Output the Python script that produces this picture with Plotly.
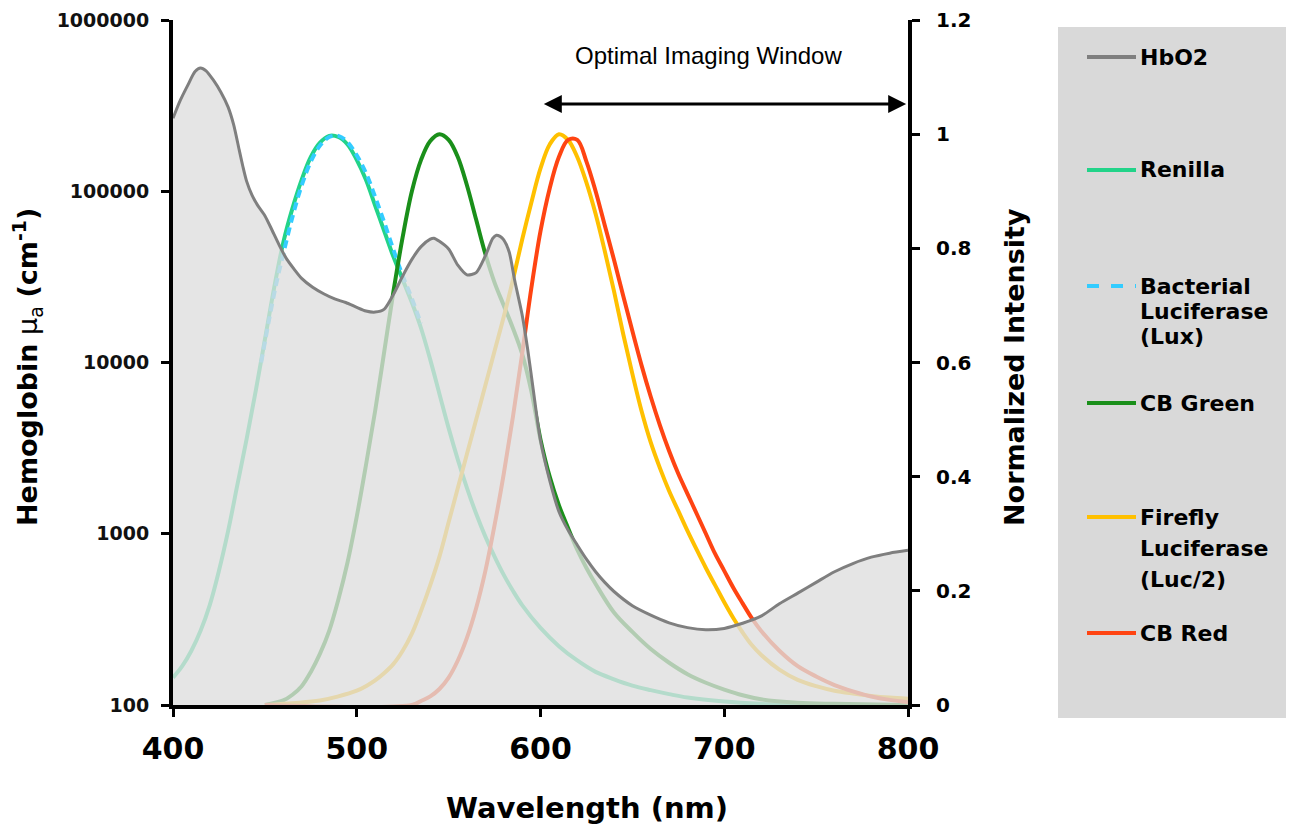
import plotly.graph_objects as go

# ---------------- data ----------------
hbo2_wl = [400, 404, 408, 412, 415, 418, 422, 426, 430, 433, 436, 438, 440, 443, 446, 450,
           454, 458, 462, 466, 470, 476, 482, 488, 494, 500, 505, 510, 515, 520, 525, 530,
           535, 540, 542, 545, 550, 555, 560, 565, 570, 574, 576, 578, 580, 583, 586, 590,
           593, 596, 600, 605, 610, 615, 620, 625, 630, 635, 640, 650, 660, 670, 680, 690,
           700, 710, 720, 730, 740, 750, 760, 770, 780, 790, 800]
hbo2_mua = [267000, 340000, 415000, 500000, 525000, 505000, 445000, 380000, 310000, 245000,
            175000, 140000, 115000, 95000, 83000, 72000, 59000, 48000, 40000, 35000, 31000,
            27500, 25200, 23500, 22400, 21000, 20000, 19700, 20500, 25000, 32000, 40000,
            47500, 52500, 53200, 51000, 46000, 37000, 32500, 33500, 42000, 53000, 55400,
            54500, 52000, 44000, 30000, 19000, 12000, 7000, 3500, 2050, 1350, 1050, 860,
            710, 600, 520, 460, 380, 335, 302, 283, 275, 280, 300, 330, 390, 450, 520, 600,
            670, 730, 770, 800]

renilla_wl = [400, 405, 410, 415, 420, 425, 430, 435, 440, 445, 450, 455, 460, 465, 470, 475,
              480, 485, 490, 495, 500, 505, 510, 515, 520, 525, 530, 535, 540, 545, 550, 555,
              560, 565, 570, 575, 580, 585, 590, 600, 610, 620, 630, 640, 650, 660, 670, 680,
              700, 720, 740, 800]
renilla_int = [0.048, 0.068, 0.095, 0.13, 0.175, 0.235, 0.305, 0.385, 0.465, 0.55, 0.64, 0.73,
               0.81, 0.87, 0.92, 0.96, 0.985, 0.997, 0.995, 0.982, 0.955, 0.92, 0.875, 0.83,
               0.785, 0.745, 0.705, 0.66, 0.605, 0.545, 0.485, 0.43, 0.38, 0.335, 0.295, 0.26,
               0.228, 0.2, 0.175, 0.135, 0.103, 0.078, 0.058, 0.045, 0.034, 0.026, 0.019,
               0.013, 0.006, 0.002, 0.0, 0.0]

lux_wl = [448, 452, 456, 460, 465, 470, 475, 480, 485, 490, 495, 500, 505, 510, 515, 520,
          525, 530, 535]
lux_int = [0.6, 0.67, 0.735, 0.79, 0.855, 0.91, 0.952, 0.98, 0.995, 0.997, 0.986, 0.963,
           0.932, 0.89, 0.845, 0.797, 0.752, 0.712, 0.668]

cbgreen_wl = [450, 460, 465, 470, 475, 480, 485, 490, 495, 500, 505, 510, 515, 520, 525, 530,
              535, 540, 545, 550, 555, 560, 565, 570, 575, 580, 585, 590, 595, 600, 605, 610,
              615, 620, 625, 630, 640, 650, 660, 670, 680, 690, 700, 710, 720, 740, 760, 800]
cbgreen_int = [0.0, 0.008, 0.018, 0.033, 0.058, 0.09, 0.13, 0.185, 0.25, 0.33, 0.42, 0.515,
               0.62, 0.725, 0.82, 0.9, 0.955, 0.988, 1.0, 0.99, 0.96, 0.91, 0.85, 0.79, 0.74,
               0.7, 0.66, 0.615, 0.55, 0.465, 0.4, 0.35, 0.31, 0.272, 0.24, 0.212, 0.162,
               0.128, 0.098, 0.074, 0.054, 0.039, 0.027, 0.017, 0.01, 0.004, 0.002, 0.0]

firefly_wl = [450, 480, 490, 500, 505, 510, 515, 520, 525, 530, 535, 540, 545, 550, 555, 560,
              565, 570, 575, 580, 585, 590, 595, 600, 605, 610, 615, 620, 625, 630, 635, 640,
              645, 650, 655, 660, 665, 670, 675, 680, 685, 690, 695, 700, 705, 710, 715, 720,
              730, 740, 750, 760, 770, 780, 790, 800]
firefly_int = [0.0, 0.008, 0.015, 0.025, 0.033, 0.043, 0.056, 0.072, 0.095, 0.125, 0.165,
               0.21, 0.26, 0.32, 0.38, 0.44, 0.5, 0.56, 0.62, 0.68, 0.745, 0.815, 0.88, 0.94,
               0.982, 1.0, 0.99, 0.96, 0.915, 0.86, 0.795, 0.725, 0.65, 0.58, 0.515, 0.46,
               0.415, 0.375, 0.34, 0.305, 0.272, 0.24, 0.21, 0.18, 0.152, 0.127, 0.105, 0.088,
               0.062, 0.044, 0.033, 0.025, 0.02, 0.016, 0.013, 0.011]

cbred_wl = [450, 530, 535, 540, 545, 550, 555, 560, 565, 570, 575, 580, 585, 590, 595, 600,
            605, 610, 615, 620, 625, 630, 635, 640, 645, 650, 655, 660, 665, 670, 675, 680,
            685, 690, 695, 700, 705, 710, 715, 720, 730, 740, 750, 760, 770, 780, 790, 800]
cbred_int = [0.0, 0.0, 0.007, 0.015, 0.028, 0.048, 0.078, 0.118, 0.17, 0.235, 0.315, 0.405,
             0.505, 0.615, 0.73, 0.83, 0.905, 0.96, 0.99, 0.99, 0.952, 0.9, 0.84, 0.78, 0.717,
             0.655, 0.595, 0.54, 0.49, 0.445, 0.405, 0.37, 0.335, 0.3, 0.265, 0.235, 0.205,
             0.178, 0.152, 0.13, 0.095, 0.068, 0.05, 0.035, 0.024, 0.015, 0.009, 0.005]

x_ticks = [400, 500, 600, 700, 800]
left_ticks = [100, 1000, 10000, 100000, 1000000]
left_tick_text = ["100", "1000", "10000", "100000", "1000000"]
right_ticks = [0, 0.2, 0.4, 0.6, 0.8, 1.0, 1.2]
right_tick_text = ["0", "0.2", "0.4", "0.6", "0.8", "1", "1.2"]

legend_names = [["HbO2"], ["Renilla"], ["Bacterial", "Luciferase", "(Lux)"], ["CB Green"],
                ["Firefly", "Luciferase", "(Luc/2)"], ["CB Red"]]

# ---------------- layout geometry (page has an 8px body margin) ----------------
W, H = 1286, 822
ML, MT = 165, 12
PW, PH = 735, 685
MR, MB = W - ML - PW, H - MT - PH
PLOT_L, PLOT_B = 173, 705   # plot-area edges in page pixels


def px_x(px):
    return (px - PLOT_L) / PW


def px_y(py):
    return (PLOT_B - py) / PH


C_HB = "#7f7f7f"
C_REN = "#22d389"
C_LUX = "#33ccff"
C_GRN = "#1a8f1a"
C_FF = "#ffc000"
C_RED = "#ff4412"
FONT = "DejaVu Sans"

fig = go.Figure()

# emission spectra on the (underneath) linear intensity axis
for wl, val, col, dash, name in [
    (renilla_wl, renilla_int, C_REN, "solid", "Renilla"),
    (lux_wl, lux_int, C_LUX, "8px,5px", "Bacterial Luciferase (Lux)"),
    (cbgreen_wl, cbgreen_int, C_GRN, "solid", "CB Green"),
    (firefly_wl, firefly_int, C_FF, "solid", "Firefly Luciferase (Luc/2)"),
    (cbred_wl, cbred_int, C_RED, "solid", "CB Red"),
]:
    fig.add_trace(go.Scatter(x=wl, y=val, mode="lines", name=name, xaxis="x", yaxis="y",
                             line=dict(color=col, width=4, dash=dash, shape="spline", smoothing=1.0),
                             showlegend=False, hoverinfo="skip"))

# HbO2 on overlaying log axis (drawn on top, semi-transparent fill fades curves beneath)
fig.add_trace(go.Scatter(x=hbo2_wl, y=hbo2_mua, mode="lines", name="HbO2", xaxis="x", yaxis="y2",
                         line=dict(color=C_HB, width=3, shape="spline", smoothing=0.7),
                         fill="tozeroy", fillcolor="rgba(222,222,222,0.78)",
                         showlegend=False, hoverinfo="skip"))

axis_common = dict(showgrid=False, zeroline=False, showline=True, linecolor="black",
                   linewidth=4, ticks="outside", tickcolor="black", tickwidth=3, ticklen=8,
                   automargin=False)

fig.update_layout(
    width=W, height=H,
    margin=dict(l=ML, r=MR, t=MT, b=MB, pad=0, autoexpand=False),
    paper_bgcolor="white", plot_bgcolor="white",
    showlegend=False,
    xaxis=dict(range=[400, 800], tickvals=x_ticks, ticktext=[str(v) for v in x_ticks],
               tickfont=dict(family=FONT, size=30, color="black", weight="bold"),
               ticklabelstandoff=6, **axis_common),
    yaxis=dict(range=[0, 1.2], side="right", tickvals=right_ticks, ticktext=right_tick_text,
               tickfont=dict(family=FONT, size=20, color="black", weight="bold"),
               ticklabelstandoff=12, anchor="x", **axis_common),
    yaxis2=dict(type="log", range=[2, 6], overlaying="y", side="left", anchor="x",
                tickvals=left_ticks, ticktext=left_tick_text,
                tickfont=dict(family=FONT, size=19, color="#111111", weight="bold"),
                ticklabelstandoff=8, **axis_common),
)

ann = []
# axis titles
ann.append(dict(text="<b>Hemoglobin</b> μ<sub>a</sub> <b>(cm<sup>-1</sup>)</b>",
                xref="paper", yref="paper", x=px_x(27), y=px_y(367), textangle=-90,
                showarrow=False, xanchor="center", yanchor="middle",
                font=dict(family=FONT, size=27, color="black")))
ann.append(dict(text="<b>Normalized Intensity</b>", xref="paper", yref="paper",
                x=px_x(1014), y=px_y(367), textangle=-90, showarrow=False,
                xanchor="center", yanchor="middle",
                font=dict(family=FONT, size=27, color="black")))
ann.append(dict(text="<b>Wavelength (nm)</b>", xref="paper", yref="paper",
                x=px_x(587), y=px_y(808), showarrow=False, xanchor="center", yanchor="middle",
                font=dict(family=FONT, size=29, color="black")))
# optimal imaging window
ann.append(dict(text="Optimal Imaging Window", xref="x", yref="y", x=691.5, y=1.137,
                showarrow=False, xanchor="center", yanchor="middle",
                font=dict(family="Liberation Sans Narrow, Liberation Sans", size=24, color="black")))
ann.append(dict(text="", xref="x", yref="y", x=799, y=1.053, axref="x", ayref="y",
                ax=601, ay=1.053, showarrow=True, arrowside="end+start", arrowhead=2,
                arrowsize=1.2, arrowwidth=3, arrowcolor="black"))

shapes = []
# legend box
shapes.append(dict(type="rect", xref="paper", yref="paper", x0=px_x(1058), x1=px_x(1290),
                   y0=px_y(718), y1=px_y(27), fillcolor="#d9d9d9", line=dict(width=0),
                   layer="below"))
legend_cols = [C_HB, C_REN, C_LUX, C_GRN, C_FF, C_RED]
legend_dash = ["solid", "solid", "dash", "solid", "solid", "solid"]
legend_line_y = [57, 170, 286, 403, 517, 633]
legend_row_gap = [0, 0, 25, 0, 31, 0]
for lines, col, dsh, ly, gap in zip(legend_names, legend_cols, legend_dash, legend_line_y, legend_row_gap):
    shapes.append(dict(type="line", xref="paper", yref="paper", x0=px_x(1087), x1=px_x(1136),
                       y0=px_y(ly), y1=px_y(ly), line=dict(color=col, width=4, dash=dsh)))
    for i, txt in enumerate(lines):
        ann.append(dict(text="<b>" + txt + "</b>", xref="paper", yref="paper", x=px_x(1138),
                        y=px_y(ly + i * gap), showarrow=False, xanchor="left", yanchor="middle",
                        align="left", font=dict(family=FONT, size=22, color="black")))

fig.update_layout(annotations=ann, shapes=shapes)
fig.write_html("out.html")
